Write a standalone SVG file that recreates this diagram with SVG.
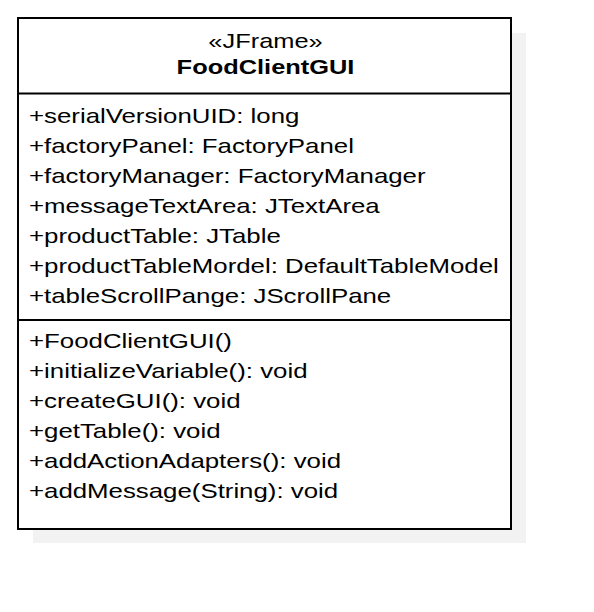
<svg xmlns="http://www.w3.org/2000/svg" width="594" height="612" viewBox="0 0 594 612">
<style>
text{font-family:"Liberation Sans",Arial,sans-serif;font-size:21px;fill:#000}
.b{font-weight:bold}
.line{stroke:#000;stroke-width:2}
</style>
<rect width="594" height="612" fill="#fff"/>
<g id="FoodClientGUI">
<rect x="33" y="33" width="493" height="510" fill="#f2f2f2"/>
<rect x="18" y="18" width="493" height="511" style="fill:#fff" class="line"/>
<line x1="18" y1="93.5" x2="511" y2="93.5" class="line"/>
<line x1="18" y1="320" x2="511" y2="320" class="line"/>
<g transform="translate(265.5,0) scale(1.21,1)">
<text x="0" y="48" text-anchor="middle">«JFrame»</text>
<text x="0" y="74" text-anchor="middle" class="b">FoodClientGUI</text>
</g>
<g transform="translate(29,0) scale(1.23,1)">
<text x="0" y="123">+serialVersionUID: long</text>
<text x="0" y="153">+factoryPanel: FactoryPanel</text>
<text x="0" y="183">+factoryManager: FactoryManager</text>
<text x="0" y="213">+messageTextArea: JTextArea</text>
<text x="0" y="243">+productTable: JTable</text>
<text x="0" y="273">+productTableMordel: DefaultTableModel</text>
<text x="0" y="303">+tableScrollPange: JScrollPane</text>
<text x="0" y="348">+FoodClientGUI()</text>
<text x="0" y="378">+initializeVariable(): void</text>
<text x="0" y="408">+createGUI(): void</text>
<text x="0" y="438">+getTable(): void</text>
<text x="0" y="468">+addActionAdapters(): void</text>
<text x="0" y="498">+addMessage(String): void</text>
</g>
</g>
<g id="connectors"/>
</svg>
